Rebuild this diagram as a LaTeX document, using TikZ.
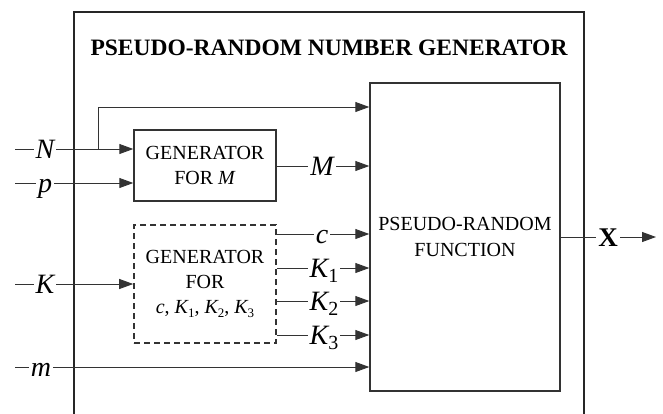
\documentclass[tikz,border=0pt]{standalone}
\usepackage{fontspec}
\setmainfont{Liberation Serif}
\usetikzlibrary{arrows.meta}
\newcommand\lsubn[3]{#1\raisebox{-0.4ex}{\fontsize{#3}{#3}\selectfont\upshape #2}}
\begin{document}
\begin{tikzpicture}[x=1pt,y=-1pt,
  wire/.style={draw=black!80, line width=0.9pt},
  arr/.style={wire, -{Triangle[length=14pt,width=10pt]}},
  lab/.style={fill=white, inner sep=2pt, anchor=base, font=\fontsize{28}{28}\selectfont\itshape},
  box/.style={draw=black!80, line width=1.4pt, align=center, inner sep=0pt, font=\fontsize{20}{25}\selectfont},
  frame/.style={draw=black!85, line width=2pt}]
\useasboundingbox (0,0) rectangle (663,413);
\begin{scope}
  \clip (0,0) rectangle (663,413);
  \draw[frame] (74,440) -- (74,12) -- (584,12) -- (584,440);
\end{scope}
\node[font=\fontsize{23.5}{23.5}\selectfont\bfseries] (title) at (329,48) {PSEUDO-RANDOM NUMBER GENERATOR};

\node[box, minimum width=142pt, minimum height=71pt] (gm) at (205,165.5) {GENERATOR\\FOR \textit{M}};
\node[box, dashed, dash pattern=on 6pt off 4pt, line width=1.6pt, minimum width=142pt, minimum height=118pt] (gk) at (205,284)
  {GENERATOR\\FOR\\{\itshape c}, {\itshape\lsubn{K}{1}{13}}, {\itshape\lsubn{K}{2}{13}}, {\itshape\lsubn{K}{3}{13}}};
\node[box, minimum width=190pt, minimum height=308pt, font=\fontsize{20}{26}\selectfont] (prf) at (465,237) {PSEUDO-RANDOM\\FUNCTION};

% inputs
\coordinate (Nin) at (15,149);
\coordinate (Nbr) at (98,149);
\coordinate (Ntop) at (98,107);
\coordinate (pin) at (15,183);
\coordinate (Kin) at (15,284);
\coordinate (min) at (15,367);
\coordinate (Xout) at (656,237);
\draw[arr] (Nin) -- (gm.west |- Nin);
\draw[wire] (Nbr) -- (Ntop);
\draw[arr] (Ntop) -- (prf.west |- Ntop);
\draw[arr] (pin) -- (gm.west |- pin);
\draw[arr] (Kin) -- (gk.west |- Kin);
\draw[arr] (min) -- (prf.west |- min);

\coordinate (Mo) at (276,166);
\coordinate (co) at (276,234);
\coordinate (K1o) at (276,268);
\coordinate (K2o) at (276,301);
\coordinate (K3o) at (276,335);
\draw[arr] (gm.east |- Mo) -- (prf.west |- Mo);
\draw[arr] (gk.east |- co) -- (prf.west |- co);
\draw[arr] (gk.east |- K1o) -- (prf.west |- K1o);
\draw[arr] (gk.east |- K2o) -- (prf.west |- K2o);
\draw[arr] (gk.east |- K3o) -- (prf.west |- K3o);
\draw[arr] (prf.east |- Xout) -- (Xout);

% labels
\node[lab] (lN) at (45,158.5) {N};
\node[lab] (lp) at (45,192.5) {p};
\node[lab] (lK) at (45,293.5) {K};
\node[lab] (lm) at (41,376.5) {m};
\node[lab] (lM) at (322,175.5) {M};
\node[lab] (lc) at (322,243.5) {c};
\node[lab] (lK1) at (324,277.5) {\lsubn{K}{1}{20}};
\node[lab] (lK2) at (324,310.5) {\lsubn{K}{2}{20}};
\node[lab] (lK3) at (324,344.5) {\lsubn{K}{3}{20}};
\node[lab, font=\fontsize{27}{27}\selectfont\bfseries] (lX) at (608,246.5) {X};
\end{tikzpicture}
\end{document}
